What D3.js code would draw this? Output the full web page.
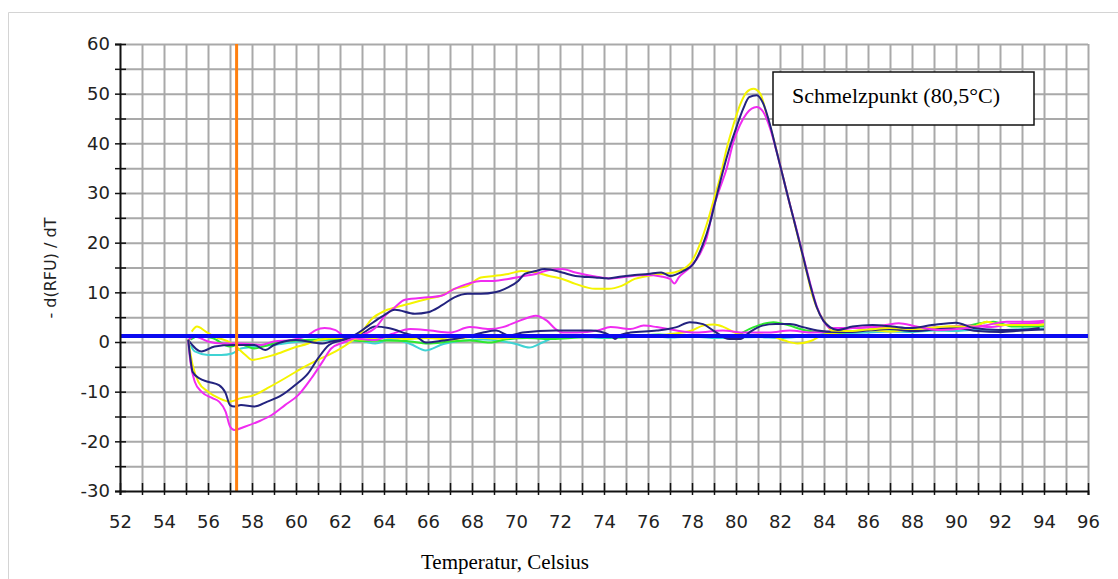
<!DOCTYPE html>
<html>
<head>
<meta charset="utf-8">
<script src="https://cdn.jsdelivr.net/npm/d3@7"></script>
<style>
  body { margin: 0; background: #fff; }
  svg { display: block; }
</style>
</head>
<body>
<div id="chart"></div>
<script>
// melt curve values as [temperature, -d(RFU)/dT]
const posYellow = [[55.1,0.5],[55.3,-4.6],[55.56,-8],[56,-10],[56.5,-11.3],[57,-12],[57.5,-11.3],[58.1,-10.7],[58.7,-9.3],[59.5,-7.3],[60.26,-5.3],[61,-3.6],[61.8,-1.9],[62.5,0.1],[63,2.1],[63.44,4.6],[64.05,6.3],[64.8,7.3],[65.4,8],[66,8.7],[66.6,9.3],[67.2,10.7],[67.8,11.3],[68.4,13],[69,13.3],[69.65,13.7],[70.25,14.3],[70.9,14],[71.5,13.3],[72.1,12.7],[72.7,11.7],[73.6,10.7],[74.2,10.7],[74.8,11.3],[75.4,12.7],[76,13.3],[76.6,13.7],[77.2,14],[77.9,15.7],[78.36,19.7],[78.67,23.7],[78.97,28.3],[79.27,33],[79.58,39],[79.88,43.7],[80.18,47.7],[80.48,50.3],[80.79,51],[81.1,50],[81.4,45.7],[81.7,41],[82,35.7],[82.3,30.3],[82.6,25],[82.9,19.7],[83.2,14.3],[83.5,9],[83.8,5.7],[84.1,3.7],[84.35,2.3],[85,2.2],[86,2.5],[87,2.8],[88,2.6],[89.7,3.1],[90.8,3.1],[91.4,4.1],[92,3.4],[93.5,3.4],[94,3.6]];
const posPink = [[55.1,0.3],[55.2,-4],[55.4,-8],[55.7,-10],[56.2,-11.3],[56.5,-12],[56.8,-14],[57,-17],[57.2,-17.7],[57.7,-17],[58.3,-16],[58.9,-14.7],[59.5,-12.7],[60.1,-10.7],[60.7,-7.3],[61.2,-4],[61.6,-1.3],[62.2,0],[63,1.4],[63.6,2.8],[64.05,5.3],[64.5,7],[64.95,8.5],[66,9],[66.6,9.3],[67.2,10.7],[67.8,11.7],[68.4,12.3],[69,12.3],[69.65,12.7],[70.25,13.2],[70.9,13.7],[71.5,14.5],[72.1,14.7],[72.7,14],[73.6,13.2],[74.35,12.8],[75.1,13.2],[75.9,13.5],[76.6,13.2],[77,12.7],[77.2,11.8],[77.4,13],[77.9,15],[78.36,17.7],[78.67,21],[78.97,27],[79.27,31],[79.58,35],[79.88,40.3],[80.18,43.7],[80.48,46],[80.94,47.3],[81.24,46.3],[81.55,43],[81.85,38.3],[82.15,33],[82.45,27.7],[82.76,22.5],[83.06,17.2],[83.36,12],[83.67,7.2],[83.97,4.3],[84.3,2.8],[85.3,2.8],[86.8,3.4],[87.4,3.8],[88.2,3.1],[89.3,2.4],[90.5,2.8],[91.4,3.4],[92.3,4.1],[93.2,4.1],[94,4.3]];
const posNavy = [[55.1,0.5],[55.2,-3.3],[55.3,-6],[55.6,-7.3],[56,-8],[56.5,-8.7],[56.8,-10.3],[57,-12.7],[57.2,-13],[57.5,-12.7],[58.1,-13],[58.7,-12],[59.35,-10.7],[59.95,-8.7],[60.55,-6.3],[61,-3.3],[61.5,-0.6],[62.1,0.4],[62.7,1.5],[63.3,3.3],[63.9,5.1],[64.5,6.5],[65.4,5.7],[66,6],[66.6,7.3],[67.2,9],[67.8,9.7],[68.4,9.7],[69.05,10],[69.5,10.7],[70.1,12.3],[70.4,13.7],[70.9,14.3],[71.3,14.7],[72.1,14],[72.7,13.3],[73.6,13],[74.2,12.8],[74.8,13.2],[75.4,13.5],[76,13.7],[76.6,14],[77,13.3],[77.6,14.3],[78.06,15.7],[78.5,19.7],[78.8,23.7],[79.1,29],[79.4,34.3],[79.7,39],[80,43],[80.33,47],[80.6,49.3],[80.94,49.7],[81.24,48],[81.55,43.7],[81.85,38.3],[82.15,33],[82.45,27.7],[82.76,22.3],[83.06,17],[83.36,11.7],[83.67,7],[83.97,4.3],[84.27,3],[84.6,2.4],[85.3,3.1],[86.2,3.4],[87.1,3.1],[87.9,2.8],[88.9,3.4],[90,3.9],[90.8,2.8],[92,2.4],[92.9,2.4],[93.8,2.8]];
const negPink = [[55.1,0.4],[55.4,1.1],[56,0.1],[56.6,-0.3],[57.5,-0.3],[58.4,-0.6],[59,0.1],[59.8,0.4],[60.56,1.4],[60.9,2.4],[61.3,2.8],[61.8,2.4],[62.2,1.1],[62.8,0.7],[63.6,0.4],[64.35,1.6],[65.2,2.6],[66.1,2.3],[67,1.9],[67.9,3],[68.8,2.6],[69.4,3],[70,4],[70.6,5],[70.9,5.3],[71.4,4.3],[71.8,2.6],[72.15,1.9],[72.75,1.9],[73.7,2.3],[74.3,3],[75.2,2.6],[75.8,3.3],[76.4,3],[77.3,2.3],[78.2,1.9],[79.4,2.3],[80.3,1.9],[81.5,1.9],[82.45,2.3],[83.4,1.9],[84.5,2.2],[85.3,2.8],[86.5,3],[87.5,2.5],[88.5,2.8],[89.5,3],[90.5,3.3],[91.5,3],[92.5,3.6],[93.5,3.8],[94,3.9]];
const negNavy = [[55.1,0.4],[55.7,-1.9],[56.3,-0.9],[57.1,-0.6],[58.1,-0.6],[58.6,-1.6],[59,-0.6],[60,0.4],[61.2,-0.3],[61.6,0.1],[62.4,0.7],[63,1.7],[63.6,3.1],[64.2,2.8],[65,1.7],[65.5,1],[65.9,-0.1],[66.7,0.3],[67.6,0.9],[68.5,1.9],[69.1,2.3],[69.7,1.3],[70.3,1.9],[71.8,2.3],[72.45,2.3],[73.4,2.3],[74.3,1.3],[74.5,0.6],[74.7,1.3],[75.2,1.9],[76.4,2.3],[77.3,3],[77.9,4],[78.5,3.6],[78.97,2.3],[79.7,0.6],[80.2,0.6],[80.6,1.9],[81.2,3.3],[81.8,3.6],[82.45,3.6],[83.05,3],[83.7,2.3],[84.5,2],[85,2],[86,2.3],[87,2.6],[88,2.2],[89,2.5],[90,2.8],[91,2.2],[92,2],[93,2.3],[94,2.5]];
const negGreen = [[55.2,0.5],[55.6,1.2],[56.2,0.8],[57,-0.9],[57.5,-0.5],[58.1,-1.3],[58.6,-0.8],[59.2,0],[60,0.3],[61,0.5],[62,0.6],[63,0.2],[64,0.3],[65,0.2],[66,-0.3],[67,0.1],[67.9,0.3],[68.8,-0.1],[69.5,0.5],[70.5,0.8],[71.5,0.6],[72.5,0.8],[73.5,1],[74.5,0.9],[75.5,1.2],[76.5,1.5],[77.5,1.1],[78.5,1.4],[79.5,1.2],[80.1,1.5],[80.6,2.6],[81.2,3.6],[81.7,4],[82.45,3.3],[83,2.5],[83.7,2],[84.5,1.8],[85.5,2.2],[86.5,2.6],[87.5,2.4],[88.5,2.8],[89.5,2.6],[90.5,3.2],[91.1,3.8],[91.7,4.1],[92.6,3.1],[93.5,3.1],[94,3.2]];
const negCyan = [[55.2,-0.6],[55.4,-1.9],[56,-2.6],[56.6,-2.6],[57.1,-2.3],[57.5,-1.3],[58.3,-0.9],[59,-0.6],[60,0],[61,0.3],[62,0.4],[63,0.2],[63.6,-0.3],[64.3,0.6],[65.2,-0.4],[65.9,-1.7],[66.7,-0.4],[67.6,0.3],[68.5,0.5],[69.3,0.2],[70,-0.4],[70.6,-1.1],[71.2,-0.1],[71.8,0.9],[73,1],[74,0.8],[75,1],[76,1.2],[77,0.9],[78,1.1],[79,0.8],[80,0.9],[81,1],[82,0.8],[83,1.1],[84,1.5],[85,1.8],[86,1.9],[87,2.1],[88,2],[89,2.3],[90,2.2],[91,2.5],[92,2.4],[93,2.6],[94,2.7]];
const negYellow = [[55.26,2.1],[55.5,3.1],[55.9,2.1],[56.3,1.1],[57.1,-0.3],[57.7,-2.6],[58,-3.6],[58.4,-3.3],[59,-2.6],[59.8,-1.3],[60.56,-0.3],[61,0.4],[62,0.8],[63,0.5],[64,0.9],[65,0.6],[66,0.8],[67,0.5],[68,1],[69,0.7],[70,0.9],[71,1.2],[72,1],[73,1.3],[74,1.1],[75,1.4],[76,1.2],[77,1.6],[78,2.3],[78.5,3.3],[79,3.5],[79.4,3.1],[80,1.8],[80.5,1.3],[81,1.5],[81.6,1.2],[82.2,0.3],[82.8,-0.3],[83.4,0.2],[84,1.5],[85,2],[86,2.4],[87,2.1],[88,2.6],[89,2.8],[89.7,3.1],[90.8,3.1],[91.4,4.1],[92,3.4],[93.5,3.4],[94,3.5]];

// threshold and melt marker
const thresholdValue = 1.2;
const markerTemp = 57.3;

const xTicks = d3.range(52, 97, 1);
const yTicks = d3.range(-30, 61, 5);
const legendText = "Schmelzpunkt (80,5°C)";

const W = 1118, H = 579;

const svg = d3.select("#chart").append("svg")
  .attr("width", W)
  .attr("height", H);

// thin frame round the picture
svg.append("path")
  .attr("d", "M8.5,579V12.5H1118")
  .attr("fill", "none")
  .attr("stroke", "#d4d4d4");

const x = d3.scaleLinear().domain([52, 96]).range([120, 1088]);
const y = d3.scaleLinear().domain([-30, 60]).range([491, 44]);

// gridlines
svg.append("g")
  .attr("transform", `translate(0,${y(-30)})`)
  .call(d3.axisBottom(x).tickValues(xTicks.slice(1)).tickSize(-(y(-30) - y(60))).tickFormat(""))
  .call(g => g.select(".domain").remove())
  .selectAll(".tick line").attr("stroke", "#a9a9a9").attr("stroke-width", 2);

svg.append("g")
  .attr("transform", `translate(${x(52)},0)`)
  .call(d3.axisLeft(y).tickValues(yTicks.slice(1)).tickSize(-(x(96) - x(52))).tickFormat(""))
  .call(g => g.select(".domain").remove())
  .selectAll(".tick line").attr("stroke", "#a9a9a9").attr("stroke-width", 2);

// curves
const line = d3.line()
  .x(d => x(d[0]))
  .y(d => y(d[1]))
  .curve(d3.curveMonotoneX);

const series = [
  {data: negCyan, color: "#3fd3d3"},
  {data: negGreen, color: "#2ee82e"},
  {data: negYellow, color: "#f4f400"},
  {data: negPink, color: "#f02cf0"},
  {data: negNavy, color: "#23237f"},
  {data: posYellow, color: "#f4f400"},
  {data: posPink, color: "#f02cf0"},
  {data: posNavy, color: "#23237f"}
];

svg.append("g")
  .selectAll("path")
  .data(series)
  .enter()
  .append("path")
  .attr("d", d => line(d.data))
  .attr("fill", "none")
  .attr("stroke", d => d.color)
  .attr("stroke-width", 2)
  .attr("stroke-linejoin", "round");

// threshold line
svg.append("line")
  .attr("x1", x(52)).attr("x2", x(96))
  .attr("y1", y(thresholdValue)).attr("y2", y(thresholdValue))
  .attr("stroke", "#0a0af0")
  .attr("stroke-width", 4);

// orange marker
svg.append("line")
  .attr("x1", x(markerTemp)).attr("x2", x(markerTemp))
  .attr("y1", y(60)).attr("y2", y(-30))
  .attr("stroke", "#ff8010")
  .attr("stroke-width", 3);

// axes
const yAxis = svg.append("g")
  .attr("transform", `translate(${x(52)},0)`)
  .call(d3.axisLeft(y).tickValues(yTicks).tickSize(5).tickPadding(5)
    .tickFormat(d => d % 10 === 0 ? d : ""));
yAxis.selectAll(".tick line").attr("x1", 6);

const xAxis = svg.append("g")
  .attr("transform", `translate(0,${y(-30)})`)
  .call(d3.axisBottom(x).tickValues(xTicks).tickSize(4).tickPadding(20)
    .tickFormat(d => d % 2 === 0 ? d : ""));
xAxis.selectAll(".tick line").attr("y1", -8);

[yAxis, xAxis].forEach(a => {
  a.select(".domain").attr("stroke", "#111").attr("stroke-width", 2);
  a.selectAll(".tick line").attr("stroke", "#111").attr("stroke-width", 1.5);
  a.selectAll("text")
    .attr("font-family", "DejaVu Sans, sans-serif")
    .attr("font-size", 18)
    .attr("fill", "#222");
});

// axis titles
svg.append("text")
  .attr("x", 505)
  .attr("y", 569)
  .attr("text-anchor", "middle")
  .attr("font-family", "Liberation Serif, serif")
  .attr("font-size", 21)
  .text("Temperatur, Celsius");

svg.append("text")
  .attr("transform", "translate(56,268) rotate(-90)")
  .attr("text-anchor", "middle")
  .attr("font-family", "DejaVu Sans, sans-serif")
  .attr("font-size", 16)
  .attr("fill", "#222")
  .text("- d(RFU) / dT");

// legend box
svg.append("rect")
  .attr("x", 773).attr("y", 72)
  .attr("width", 261).attr("height", 53)
  .attr("fill", "#fff")
  .attr("stroke", "#111")
  .attr("stroke-width", 1.5);

svg.append("text")
  .attr("x", 792)
  .attr("y", 103)
  .attr("font-family", "Liberation Serif, serif")
  .attr("font-size", 22)
  .text(legendText);
</script>
</body>
</html>
